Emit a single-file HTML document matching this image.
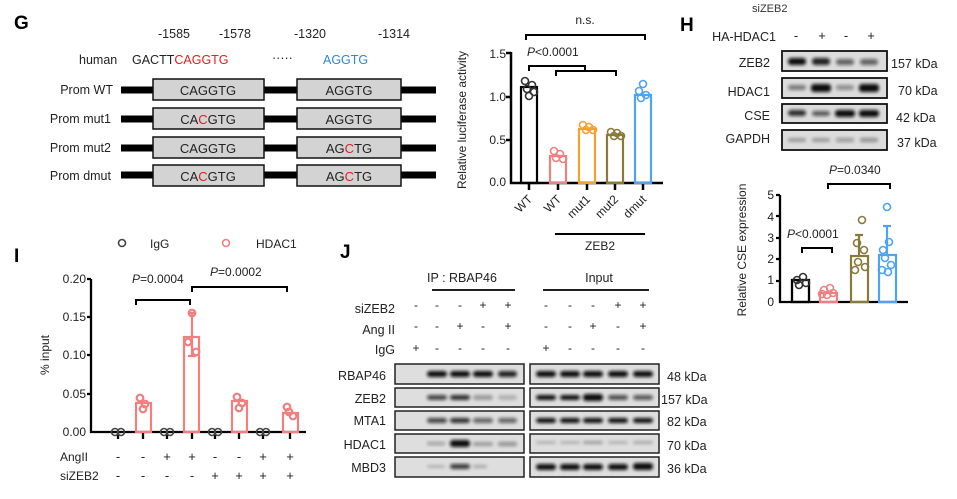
<!DOCTYPE html>
<html><head><meta charset="utf-8"><style>
html,body{margin:0;padding:0;background:#fff;}
svg{display:block;font-family:"Liberation Sans",Arial,sans-serif;}
</style></head><body>
<svg width="957" height="499" viewBox="0 0 957 499" xmlns="http://www.w3.org/2000/svg">
<defs><filter id="b" x="-20%" y="-50%" width="140%" height="200%"><feGaussianBlur stdDeviation="1.6"/></filter></defs>
<rect width="957" height="499" fill="#fff"/>
<!-- Panel G -->
<text x="14" y="29" font-size="19" font-weight="bold">G</text>
<g font-size="12.5" fill="#222">
<text x="158" y="38">-1585</text><text x="219" y="38">-1578</text><text x="294" y="38">-1320</text><text x="378" y="38">-1314</text>
<text x="79" y="64">human</text>
<text x="132" y="64">GACTT<tspan fill="#e02020">CAGGTG</tspan></text>
<text x="272" y="62">·····</text>
<text x="323" y="64" fill="#2f86d6">AGGTG</text>
</g>
<g font-size="12.5" fill="#222" text-anchor="end">
<text x="113" y="94">Prom WT</text><text x="111" y="123">Prom mut1</text><text x="111" y="152">Prom mut2</text><text x="111" y="180">Prom dmut</text>
</g>
<g stroke="#000" stroke-width="7">
<line x1="121" y1="90" x2="436" y2="90"/><line x1="121" y1="119" x2="436" y2="119"/><line x1="121" y1="148" x2="436" y2="148"/><line x1="121" y1="175" x2="436" y2="175"/>
</g>
<g fill="#d3d3d3" stroke="#111" stroke-width="1.5">
<rect x="153" y="79" width="111" height="21"/><rect x="297" y="79" width="104" height="21"/>
<rect x="153" y="108" width="111" height="21"/><rect x="297" y="108" width="104" height="21"/>
<rect x="153" y="137" width="111" height="21"/><rect x="297" y="137" width="104" height="21"/>
<rect x="153" y="165" width="111" height="21"/><rect x="297" y="165" width="104" height="21"/>
</g>
<g font-size="13" fill="#222" text-anchor="middle">
<text x="208" y="95">CAGGTG</text><text x="349" y="95">AGGTG</text>
<text x="208" y="124">CA<tspan fill="#e02020">C</tspan>GTG</text><text x="349" y="124">AGGTG</text>
<text x="208" y="153">CAGGTG</text><text x="349" y="153">AG<tspan fill="#e02020">C</tspan>TG</text>
<text x="208" y="181">CA<tspan fill="#e02020">C</tspan>GTG</text><text x="349" y="181">AG<tspan fill="#e02020">C</tspan>TG</text>
</g>
<!-- luciferase plot -->
<text transform="translate(466,120) rotate(-90)" font-size="12" text-anchor="middle" fill="#222">Relative luciferase activity</text>
<g font-size="12" fill="#222" text-anchor="end"><text x="506" y="58">1.5</text><text x="506" y="101">1.0</text><text x="506" y="144">0.5</text><text x="506" y="186">0.0</text></g>
<g stroke="#000" stroke-width="2.5" fill="none">
<path d="M511 52 V183 H663"/>
<path d="M506 53H511M506 97H511M506 140H511"/>
<path d="M529 183v7M558 183v7M587 183v7M615 183v7M643 183v7"/>
</g>
<g stroke-width="2.2" fill="none">
<rect x="521" y="87" width="16" height="96" stroke="#000"/>
<rect x="550" y="156" width="16" height="27" stroke="#f08080"/>
<rect x="579" y="129" width="16" height="54" stroke="#f5a030"/>
<rect x="607" y="135" width="16" height="48" stroke="#8a7a3a"/>
<rect x="635" y="95" width="16" height="88" stroke="#4da3f5"/>
</g>
<g fill="none" stroke-width="1.6">
<g stroke="#333"><circle cx="525" cy="81" r="3.5"/><circle cx="532" cy="85" r="3.5"/><circle cx="527" cy="89" r="3.5"/><circle cx="534" cy="92" r="3.5"/><circle cx="529" cy="96" r="3.5"/></g>
<g stroke="#f08080"><circle cx="554" cy="151" r="3.5"/><circle cx="560" cy="154" r="3.5"/><circle cx="556" cy="158" r="3.5"/><circle cx="563" cy="159" r="3.5"/></g>
<g stroke="#f5a030"><circle cx="583" cy="125" r="3.5"/><circle cx="589" cy="127" r="3.5"/><circle cx="593" cy="130" r="3.5"/><circle cx="586" cy="130" r="3.5"/></g>
<g stroke="#8a7a3a"><circle cx="611" cy="132" r="3.5"/><circle cx="617" cy="133" r="3.5"/><circle cx="621" cy="136" r="3.5"/><circle cx="614" cy="136" r="3.5"/></g>
<g stroke="#4da3f5"><circle cx="643" cy="84" r="3.5"/><circle cx="639" cy="91" r="3.5"/><circle cx="646" cy="95" r="3.5"/><circle cx="641" cy="98" r="3.5"/></g>
</g>
<g font-size="12" fill="#222" text-anchor="end">
<text transform="translate(533,200) rotate(-45)">WT</text>
<text transform="translate(562,200) rotate(-45)">WT</text>
<text transform="translate(591,200) rotate(-45)">mut1</text>
<text transform="translate(619,200) rotate(-45)">mut2</text>
<text transform="translate(647,200) rotate(-45)">dmut</text>
</g>
<line x1="555" y1="234" x2="645" y2="234" stroke="#000" stroke-width="2"/>
<text x="600" y="250" font-size="12" text-anchor="middle" fill="#222">ZEB2</text>
<text x="585" y="24" font-size="12" text-anchor="middle" fill="#222">n.s.</text>
<path d="M526 40V35H645V40" stroke="#000" stroke-width="2" fill="none"/>
<text x="527" y="56" font-size="12" fill="#222"><tspan font-style="italic">P</tspan>&lt;0.0001</text>
<path d="M529 71V66H585V71M556 76V71H616V76" stroke="#000" stroke-width="2" fill="none"/>
<!-- Panel H -->
<text x="680" y="31" font-size="19" font-weight="bold">H</text>
<text x="752" y="12" font-size="11" fill="#333">siZEB2</text>
<text x="776" y="41" font-size="12.5" fill="#222" text-anchor="end">HA-HDAC1</text>
<g font-size="13" fill="#222" text-anchor="middle"><text x="796" y="40">-</text><text x="822" y="40">+</text><text x="846" y="40">-</text><text x="871" y="40">+</text></g>
<g font-size="12.5" fill="#222" text-anchor="end"><text x="770" y="67">ZEB2</text><text x="770" y="96">HDAC1</text><text x="770" y="120">CSE</text><text x="770" y="143">GAPDH</text></g>
<g font-size="12.5" fill="#222"><text x="891" y="68">157 kDa</text><text x="898" y="95">70 kDa</text><text x="896" y="122">42 kDa</text><text x="897" y="147">37 kDa</text></g>
<g fill="#dcdcdc" stroke="#111" stroke-width="1.8">
<rect x="782" y="51" width="105" height="20"/><rect x="782" y="78" width="105" height="20"/><rect x="782" y="104" width="105" height="19"/><rect x="782" y="130" width="105" height="20"/>
</g>
<g filter="url(#b)" fill="#111">
<rect x="788" y="58" width="18" height="7" rx="3"/><rect x="812" y="58" width="18" height="7" rx="3" opacity=".9"/><rect x="836" y="59" width="18" height="6" rx="3" opacity=".6"/><rect x="860" y="59" width="18" height="6" rx="3" opacity=".6"/>
<rect x="788" y="85" width="18" height="5" rx="3" opacity=".5"/><rect x="811" y="84" width="20" height="8" rx="3"/><rect x="836" y="85" width="18" height="5" rx="3" opacity=".4"/><rect x="859" y="84" width="20" height="8" rx="3"/>
<rect x="788" y="110" width="18" height="6" rx="3" opacity=".85"/><rect x="812" y="111" width="18" height="5" rx="3" opacity=".65"/><rect x="835" y="110" width="20" height="7" rx="3"/><rect x="859" y="110" width="20" height="7" rx="3"/>
<rect x="788" y="138" width="18" height="4" rx="2" opacity=".3"/><rect x="812" y="138" width="18" height="4" rx="2" opacity=".3"/><rect x="836" y="138" width="18" height="4" rx="2" opacity=".35"/><rect x="860" y="138" width="18" height="4" rx="2" opacity=".4"/>
</g>
<text transform="translate(746,250) rotate(-90)" font-size="12" text-anchor="middle" fill="#222">Relative CSE expression</text>
<g font-size="12" fill="#222" text-anchor="end"><text x="774" y="199">5</text><text x="774" y="221">4</text><text x="774" y="242">3</text><text x="774" y="263">2</text><text x="774" y="284">1</text><text x="774" y="306">0</text></g>
<g stroke="#000" stroke-width="2.3" fill="none">
<path d="M780 195V302H908"/><path d="M776 195h4M776 216h4M776 238h4M776 259h4M776 281h4"/>
<rect x="792" y="280" width="17" height="22"/>
</g>
<g stroke-width="2.2" fill="none">
<rect x="820" y="293" width="17" height="9" stroke="#f08080"/>
<rect x="851" y="256" width="17" height="46" stroke="#8a7a3a"/>
<rect x="879" y="255" width="17" height="47" stroke="#4da3f5"/>
<path d="M859 256V235M855 235h8" stroke="#8a7a3a"/><path d="M887 255V226M883 226h8" stroke="#4da3f5"/>
</g>
<g fill="none" stroke-width="1.6">
<g stroke="#333"><circle cx="797" cy="280" r="3.5"/><circle cx="803" cy="277" r="3.5"/><circle cx="806" cy="283" r="3.5"/><circle cx="799" cy="285" r="3.5"/></g>
<g stroke="#f08080"><circle cx="824" cy="290" r="3.5"/><circle cx="830" cy="288" r="3.5"/><circle cx="833" cy="293" r="3.5"/><circle cx="827" cy="295" r="3.5"/><circle cx="822" cy="294" r="3.5"/></g>
<g stroke="#8a7a3a"><circle cx="862" cy="220" r="3.5"/><circle cx="857" cy="243" r="3.5"/><circle cx="864" cy="250" r="3.5"/><circle cx="858" cy="262" r="3.5"/><circle cx="865" cy="267" r="3.5"/><circle cx="855" cy="270" r="3.5"/></g>
<g stroke="#4da3f5"><circle cx="887" cy="207" r="3.5"/><circle cx="889" cy="242" r="3.5"/><circle cx="883" cy="250" r="3.5"/><circle cx="885" cy="258" r="3.5"/><circle cx="891" cy="265" r="3.5"/><circle cx="882" cy="270" r="3.5"/><circle cx="888" cy="272" r="3.5"/></g>
</g>
<text x="787" y="238" font-size="12" fill="#222"><tspan font-style="italic">P</tspan>&lt;0.0001</text>
<path d="M802 253V248H832V253" stroke="#000" stroke-width="2" fill="none"/>
<text x="829" y="174" font-size="12" fill="#222"><tspan font-style="italic">P</tspan>=0.0340</text>
<path d="M828 189V184H890V189" stroke="#000" stroke-width="2" fill="none"/>
<!-- Panel I -->
<text x="14" y="262" font-size="19" font-weight="bold">I</text>
<circle cx="122" cy="243" r="3.5" fill="none" stroke="#444" stroke-width="1.6"/><text x="150" y="248" font-size="12" fill="#222">IgG</text>
<circle cx="226" cy="243" r="3.5" fill="none" stroke="#f08080" stroke-width="1.6"/><text x="256" y="248" font-size="12" fill="#222">HDAC1</text>
<text transform="translate(49,355) rotate(-90)" font-size="12" text-anchor="middle" fill="#222">% input</text>
<g font-size="12" fill="#222" text-anchor="end"><text x="86" y="283">0.20</text><text x="86" y="321">0.15</text><text x="86" y="359">0.10</text><text x="86" y="398">0.05</text><text x="86" y="436">0.00</text></g>
<g stroke="#000" stroke-width="2.3" fill="none">
<path d="M91 279V432H306"/><path d="M87 279h4M87 317h4M87 355h4M87 394h4"/>
<path d="M118 432v7M143 432v7M167 432v7M192 432v7M215 432v7M239 432v7M263 432v7M290 432v7"/>
</g>
<g stroke="#f08080" stroke-width="2.2" fill="none">
<rect x="136" y="403" width="15" height="29"/><rect x="184" y="337" width="15" height="95"/><rect x="232" y="401" width="15" height="31"/><rect x="283" y="413" width="15" height="19"/>
<path d="M192 337V313M188 313h8M192 337V356M188 356h8"/>
<circle cx="140" cy="398" r="3.3"/><circle cx="145" cy="404" r="3.3"/><circle cx="143" cy="409" r="3.3"/>
<circle cx="192" cy="313" r="3.3"/><circle cx="188" cy="342" r="3.3"/><circle cx="196" cy="352" r="3.3"/>
<circle cx="237" cy="397" r="3.3"/><circle cx="242" cy="403" r="3.3"/><circle cx="239" cy="408" r="3.3"/>
<circle cx="287" cy="407" r="3.3"/><circle cx="293" cy="416" r="3.3"/><circle cx="289" cy="412" r="3.3"/>
</g>
<g stroke="#444" stroke-width="1.6" fill="none">
<circle cx="115" cy="432" r="3.5"/><circle cx="121" cy="432" r="3.5"/><circle cx="164" cy="432" r="3.5"/><circle cx="170" cy="432" r="3.5"/><circle cx="212" cy="432" r="3.5"/><circle cx="218" cy="432" r="3.5"/><circle cx="260" cy="432" r="3.5"/><circle cx="266" cy="432" r="3.5"/>
</g>
<text x="132" y="283" font-size="12" fill="#222"><tspan font-style="italic">P</tspan>=0.0004</text>
<path d="M136 305V300H190V305" stroke="#000" stroke-width="2" fill="none"/>
<text x="210" y="276" font-size="12" fill="#222"><tspan font-style="italic">P</tspan>=0.0002</text>
<path d="M192 292V287H287V292" stroke="#000" stroke-width="2" fill="none"/>
<g font-size="12" fill="#222">
<text x="60" y="461">AngII</text><text x="60" y="480">siZEB2</text>
</g>
<g font-size="13" fill="#222" text-anchor="middle">
<text x="118" y="461">-</text><text x="143" y="461">-</text><text x="167" y="461">+</text><text x="192" y="461">+</text><text x="215" y="461">-</text><text x="239" y="461">-</text><text x="263" y="461">+</text><text x="290" y="461">+</text>
<text x="118" y="480">-</text><text x="143" y="480">-</text><text x="167" y="480">-</text><text x="192" y="480">-</text><text x="215" y="480">+</text><text x="239" y="480">+</text><text x="263" y="480">+</text><text x="290" y="480">+</text>
</g>
<!-- Panel J -->
<text x="340" y="258" font-size="19" font-weight="bold">J</text>
<text x="462" y="282" font-size="12.5" text-anchor="middle" fill="#222">IP : RBAP46</text>
<line x1="432" y1="290" x2="515" y2="290" stroke="#000" stroke-width="1.8"/>
<text x="599" y="282" font-size="12.5" text-anchor="middle" fill="#222">Input</text>
<line x1="543" y1="290" x2="649" y2="290" stroke="#000" stroke-width="1.8"/>
<g font-size="12.5" fill="#222" text-anchor="end"><text x="395" y="313">siZEB2</text><text x="395" y="334">Ang II</text><text x="395" y="354">IgG</text></g>
<g font-size="12" fill="#222" text-anchor="middle">
<text x="416" y="309">-</text><text x="437" y="309">-</text><text x="460" y="309">-</text><text x="483" y="309">+</text><text x="508" y="309">+</text>
<text x="546" y="309">-</text><text x="570" y="309">-</text><text x="593" y="309">-</text><text x="618" y="309">+</text><text x="643" y="309">+</text>
<text x="416" y="330">-</text><text x="437" y="330">-</text><text x="460" y="330">+</text><text x="483" y="330">-</text><text x="508" y="330">+</text>
<text x="546" y="330">-</text><text x="570" y="330">-</text><text x="593" y="330">+</text><text x="618" y="330">-</text><text x="643" y="330">+</text>
<text x="416" y="352">+</text><text x="437" y="352">-</text><text x="460" y="352">-</text><text x="483" y="352">-</text><text x="508" y="352">-</text>
<text x="546" y="352">+</text><text x="570" y="352">-</text><text x="593" y="352">-</text><text x="618" y="352">-</text><text x="643" y="352">-</text>
</g>
<g font-size="12.5" fill="#222" text-anchor="end"><text x="386" y="380">RBAP46</text><text x="386" y="403">ZEB2</text><text x="386" y="425">MTA1</text><text x="386" y="449">HDAC1</text><text x="386" y="472">MBD3</text></g>
<g font-size="12.5" fill="#222"><text x="667" y="381">48 kDa</text><text x="661" y="404">157 kDa</text><text x="667" y="426">82 kDa</text><text x="667" y="450">70 kDa</text><text x="667" y="473">36 kDa</text></g>
<g fill="#dedede" stroke="#222" stroke-width="1.5">
<rect x="395" y="364" width="129" height="20"/><rect x="530" y="364" width="129" height="20"/>
<rect x="395" y="388" width="129" height="19"/><rect x="530" y="388" width="129" height="19"/>
<rect x="395" y="411" width="129" height="19"/><rect x="530" y="411" width="129" height="19"/>
<rect x="395" y="434" width="129" height="19"/><rect x="530" y="434" width="129" height="19"/>
<rect x="395" y="457" width="129" height="20"/><rect x="530" y="457" width="129" height="20"/>
</g>
<g filter="url(#b)" fill="#111">
<rect x="427" y="371" width="20" height="6" rx="3"/><rect x="450" y="371" width="20" height="6" rx="3"/><rect x="473" y="371" width="20" height="6" rx="3"/><rect x="498" y="371" width="19" height="6" rx="3" opacity=".9"/>
<rect x="536" y="371" width="20" height="6" rx="3"/><rect x="560" y="371" width="20" height="6" rx="3"/><rect x="583" y="371" width="20" height="6" rx="3"/><rect x="608" y="371" width="20" height="6" rx="3"/><rect x="633" y="371" width="20" height="6" rx="3"/>
<rect x="427" y="395" width="20" height="5" rx="3" opacity=".75"/><rect x="450" y="395" width="20" height="5" rx="3" opacity=".85"/><rect x="473" y="395" width="20" height="5" rx="3" opacity=".3"/><rect x="498" y="395" width="19" height="5" rx="3" opacity=".2"/>
<rect x="536" y="395" width="20" height="5" rx="3"/><rect x="560" y="395" width="20" height="5" rx="3"/><rect x="583" y="394" width="20" height="7" rx="3"/><rect x="608" y="395" width="20" height="5" rx="3" opacity=".7"/><rect x="633" y="395" width="20" height="5" rx="3" opacity=".65"/>
<rect x="427" y="418" width="20" height="5" rx="3" opacity=".75"/><rect x="450" y="418" width="20" height="5" rx="3" opacity=".85"/><rect x="473" y="418" width="20" height="5" rx="3" opacity=".6"/><rect x="498" y="418" width="19" height="5" rx="3" opacity=".6"/>
<rect x="536" y="418" width="20" height="5" rx="3"/><rect x="560" y="418" width="20" height="5" rx="3"/><rect x="583" y="418" width="20" height="5" rx="3"/><rect x="608" y="418" width="20" height="5" rx="3"/><rect x="633" y="418" width="20" height="5" rx="3"/>
<rect x="427" y="442" width="18" height="3" rx="2" opacity=".35"/><rect x="450" y="440" width="20" height="7" rx="3"/><rect x="473" y="442" width="20" height="4" rx="2" opacity=".3"/><rect x="498" y="442" width="19" height="4" rx="2" opacity=".4"/>
<rect x="536" y="441" width="20" height="3" rx="2" opacity=".2"/><rect x="560" y="441" width="20" height="3" rx="2" opacity=".2"/><rect x="583" y="441" width="20" height="3" rx="2" opacity=".3"/><rect x="608" y="441" width="20" height="3" rx="2" opacity=".2"/><rect x="633" y="441" width="20" height="3" rx="2" opacity=".25"/>
<rect x="427" y="465" width="18" height="3" rx="2" opacity=".2"/><rect x="450" y="464" width="20" height="5" rx="3" opacity=".8"/><rect x="473" y="465" width="14" height="3" rx="2" opacity=".25"/>
<rect x="536" y="464" width="20" height="6" rx="3"/><rect x="560" y="464" width="20" height="6" rx="3"/><rect x="583" y="464" width="20" height="6" rx="3"/><rect x="608" y="464" width="20" height="6" rx="3"/><rect x="633" y="463" width="20" height="7" rx="3"/>
</g>
</svg>
</body></html>
